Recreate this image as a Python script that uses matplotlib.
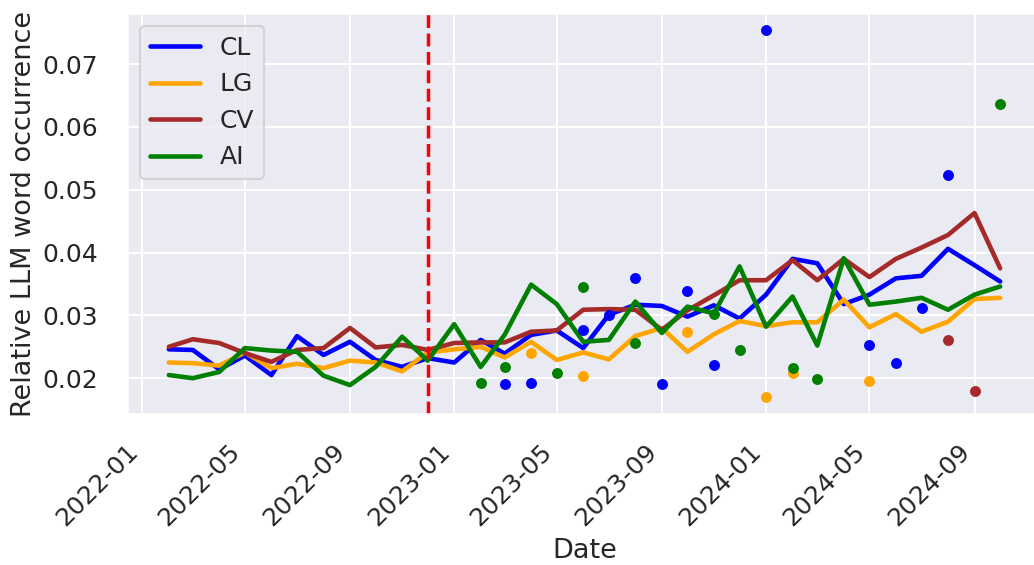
import matplotlib
matplotlib.use("Agg")
import matplotlib.pyplot as plt
import matplotlib.dates as mdates
import pandas as pd
import seaborn as sns

months = pd.date_range("2022-02-01", "2024-10-01", freq="MS")

cl = [0.0246, 0.0245, 0.0214, 0.0236, 0.0205, 0.0267, 0.0237, 0.0258, 0.0229, 0.0218, 0.0232,
      0.0225, 0.0261, 0.0239, 0.0269, 0.0276, 0.0248, 0.0301, 0.0317, 0.0315, 0.0298, 0.0316, 0.0295,
      0.0333, 0.0390, 0.0383, 0.0318, 0.0333, 0.0359, 0.0363, 0.0406, 0.0380, 0.0354]
lg = [0.0225, 0.0224, 0.0220, 0.0241, 0.0216, 0.0223, 0.0216, 0.0228, 0.0225, 0.0211, 0.0241,
      0.0246, 0.0250, 0.0233, 0.0258, 0.0229, 0.0241, 0.0230, 0.0267, 0.0280, 0.0242, 0.0270, 0.0291,
      0.0283, 0.0289, 0.0289, 0.0325, 0.0281, 0.0302, 0.0274, 0.0290, 0.0326, 0.0328]
cv = [0.0250, 0.0262, 0.0256, 0.0240, 0.0226, 0.0245, 0.0248, 0.0280, 0.0249, 0.0253, 0.0245,
      0.0256, 0.0257, 0.0257, 0.0274, 0.0276, 0.0309, 0.0310, 0.0309, 0.0277, 0.0308, 0.0332, 0.0356,
      0.0356, 0.0388, 0.0356, 0.0390, 0.0361, 0.0390, 0.0408, 0.0428, 0.0463, 0.0375]
ai = [0.0205, 0.0200, 0.0210, 0.0248, 0.0244, 0.0242, 0.0204, 0.0189, 0.0218, 0.0266, 0.0228,
      0.0286, 0.0218, 0.0269, 0.0349, 0.0318, 0.0258, 0.0261, 0.0322, 0.0272, 0.0314, 0.0303, 0.0378,
      0.0282, 0.0330, 0.0252, 0.0391, 0.0317, 0.0322, 0.0328, 0.0309, 0.0333, 0.0346]

cl_dot_dates = ["2023-03-01", "2023-04-01", "2023-06-01", "2023-07-01", "2023-08-01", "2023-09-01",
                "2023-10-01", "2023-11-01", "2024-01-01", "2024-05-01", "2024-06-01", "2024-07-01",
                "2024-08-01"]
cl_dot_vals = [0.0190, 0.0193, 0.0276, 0.0301, 0.0359, 0.0190, 0.0339, 0.0221, 0.0755, 0.0253,
               0.0224, 0.0312, 0.0524]
lg_dot_dates = ["2023-04-01", "2023-06-01", "2023-10-01", "2024-01-01", "2024-02-01", "2024-05-01"]
lg_dot_vals = [0.0240, 0.0204, 0.0274, 0.0170, 0.0208, 0.0196]
cv_dot_dates = ["2024-08-01", "2024-09-01"]
cv_dot_vals = [0.0261, 0.0180]
ai_dot_dates = ["2023-02-01", "2023-03-01", "2023-05-01", "2023-06-01", "2023-08-01", "2023-11-01",
                "2023-12-01", "2024-02-01", "2024-03-01", "2024-10-01"]
ai_dot_vals = [0.0192, 0.0218, 0.0209, 0.0345, 0.0256, 0.0302, 0.0245, 0.0216, 0.0199, 0.0637]

release_date = "2022-12-01"

series = [
    ("CL", cl, cl_dot_dates, cl_dot_vals, "blue"),
    ("LG", lg, lg_dot_dates, lg_dot_vals, "orange"),
    ("CV", cv, cv_dot_dates, cv_dot_vals, "brown"),
    ("AI", ai, ai_dot_dates, ai_dot_vals, "green"),
]

sns.set_theme(style="darkgrid", context="talk")
plt.rcParams["font.family"] = ["DejaVu Sans"]

fig = plt.figure(figsize=(10.34, 5.65), dpi=100)
ax = fig.add_axes([127 / 1034, 1 - 414 / 565, (1042 - 127) / 1034, (414 - 13.3) / 565])

for name, vals, dd, dv, col in series:
    ax.plot(months, vals, color=col, lw=3.3, label=name)
for name, vals, dd, dv, col in series:
    ax.scatter(pd.to_datetime(dd), dv, color=col, s=62, linewidths=0, zorder=3)

ax.axvline(pd.Timestamp(release_date), color="red", linestyle="--", lw=2.5)

ax.xaxis.set_major_locator(mdates.MonthLocator(bymonth=[1, 5, 9]))
ax.xaxis.set_major_formatter(mdates.DateFormatter("%Y-%m"))
plt.setp(ax.get_xticklabels(), rotation=45, ha="right")
ax.set_yticks([0.02, 0.03, 0.04, 0.05, 0.06, 0.07])
ax.set_xlim(pd.Timestamp("2021-12-14"), pd.Timestamp("2024-11-19"))
ax.set_ylim(0.0143, 0.0781)
ax.tick_params(axis="both", labelsize=18)
ax.tick_params(axis="x", pad=9.5)
ax.tick_params(axis="y", pad=12)

ax.set_xlabel("Date", fontsize=19.5, labelpad=5)
ax.set_ylabel("Relative LLM word occurrence", fontsize=19.5, labelpad=4)
ax.legend(loc="upper left", fontsize=18, borderaxespad=0.5)

fig.savefig("out.png", dpi=100)
